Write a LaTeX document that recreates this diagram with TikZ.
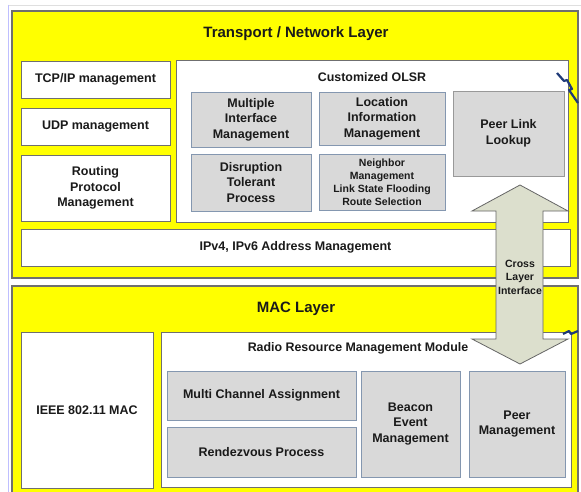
\documentclass[tikz,border=0pt]{standalone}
\usepackage{fontspec}
\setmainfont{Liberation Sans}
\definecolor{layeryellow}{HTML}{FFFF00}
\definecolor{edgegray}{HTML}{6F6F6F}
\definecolor{boxgray}{HTML}{D9D9D9}
\definecolor{boxedge}{HTML}{8497B0}
\definecolor{arrowfill}{HTML}{DCDFCD}
\definecolor{txt}{HTML}{1A1A1A}
\definecolor{markblue}{HTML}{1F3A78}
\begin{document}
\begin{tikzpicture}[x=1pt,y=-1pt,
  every node/.style={inner sep=0pt,outer sep=0pt,text=txt,font=\bfseries},
  layer/.style={draw=edgegray,line width=1.1pt,fill=layeryellow},
  whitebox/.style={draw=edgegray,line width=0.8pt,fill=white,anchor=north west,align=center,
    font=\fontsize{12.5}{15.5}\selectfont\bfseries},
  graybox/.style={draw=boxedge,line width=0.9pt,fill=boxgray,anchor=north west,align=center,
    font=\fontsize{12.5}{15.5}\selectfont\bfseries},
  title/.style={font=\fontsize{15}{17}\selectfont\bfseries},
  label/.style={font=\fontsize{12.4}{15}\selectfont\bfseries}]
\useasboundingbox (0,0) rectangle (581,492);
\clip (0,0) rectangle (581,492);
\fill[white] (0,0) rectangle (581,492);
% frame lines
\draw[gray!25,line width=0.8pt] (8,5) -- (581,5);
\draw[blue!25,line width=0.8pt] (8,5) -- (8,492);

% transport / network layer
\node[layer,anchor=north west,minimum width=566,minimum height=267] (tnl) at (12,11) {};
\node[title] (tnltitle) at (296,34) {Transport / Network Layer};
\node[whitebox,minimum width=149,minimum height=37] (tcp) at (21,61) {TCP/IP management};
\node[whitebox,minimum width=149,minimum height=37] (udp) at (21,108) {UDP management};
\node[whitebox,minimum width=149,minimum height=66] (rpm) at (21,155) {Routing\\Protocol\\Management};
\node[whitebox,minimum width=392,minimum height=162] (olsr) at (176,60) {};
\node[label] (olsrtitle) at (372,77) {Customized OLSR};
\node[graybox,minimum width=120,minimum height=55] (mim) at (191,92) {Multiple\\Interface\\Management};
\node[graybox,minimum width=120,minimum height=57] (dtp) at (191,154) {Disruption\\Tolerant\\Process};
\node[graybox,minimum width=126,minimum height=53] (lim) at (319,92) {Location\\Information\\Management};
\node[graybox,minimum width=126,minimum height=56,font=\fontsize{10.5}{13}\selectfont\bfseries] (nm) at (319,154)
  {Neighbor\\Management\\Link State Flooding\\Route Selection};
\node[graybox,draw=gray!80,minimum width=111,minimum height=85] (pll) at (453,91) {Peer Link\\Lookup};
\node[whitebox,minimum width=549,minimum height=37] (ipv) at (21,229) {IPv4, IPv6 Address Management};

% MAC layer
\node[layer,anchor=north west,minimum width=566,minimum height=220] (mac) at (12,286) {};
\node[title] (mactitle) at (296,309) {MAC Layer};
\node[whitebox,minimum width=132,minimum height=156] (ieee) at (21,332) {IEEE 802.11 MAC};
\node[whitebox,minimum width=410,minimum height=155] (rrm) at (161,332) {};
\node[label] (rrmtitle) at (358,348) {Radio Resource Management Module};
\node[graybox,minimum width=189,minimum height=49] (mca) at (167,371) {Multi Channel Assignment};
\node[graybox,minimum width=189,minimum height=50] (rp) at (167,427) {Rendezvous Process};
\node[graybox,minimum width=99,minimum height=106] (bem) at (361,371) {Beacon\\Event\\Management};
\node[graybox,minimum width=96,minimum height=106] (pm) at (469,371) {Peer\\Management};

% cross layer interface arrow
\draw[draw=gray!80!black,line width=0.8pt,fill=arrowfill]
  (520,185) -- (568,211) -- (543,211) -- (543,339) -- (568,339) -- (520,364)
  -- (472,339) -- (496,339) -- (496,211) -- (472,211) -- cycle;
\node[align=center,font=\fontsize{10.5}{13.5}\selectfont\bfseries] (cli) at (520,277) {Cross\\Layer\\Interface};

% broken link marks
\draw[markblue,line width=2.2pt,line join=round]
  (557,73) -- (564,81) -- (567,80) -- (572,89) -- (569,90) -- (578,103);
\draw[markblue,line width=2.2pt,line join=round]
  (563,334) -- (569,331) -- (571,334) -- (578,331);
\end{tikzpicture}
\end{document}
